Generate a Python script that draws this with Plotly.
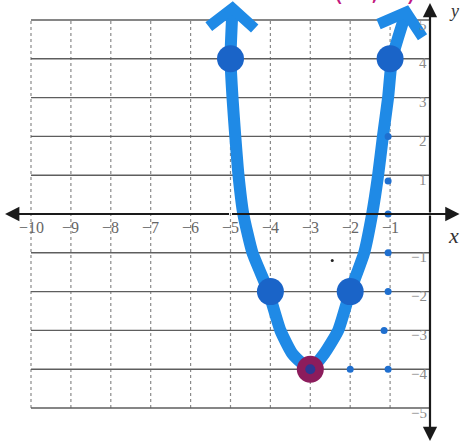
import numpy as np
import plotly.graph_objects as go

# ---- data ----
x_ticks = [-10, -9, -8, -7, -6, -5, -4, -3, -2, -1]
x_tick_labels = ["\u221210", "\u22129", "\u22128", "\u22127", "\u22126", "\u22125", "\u22124", "\u22123", "\u22122", "\u22121"]
y_ticks = [5, 4, 3, 2, 1, -1, -2, -3, -4, -5]
y_tick_labels = ["5", "4", "3", "2", "1", "\u22121", "\u22122", "\u22123", "\u22124", "\u22125"]

# hand-drawn parabola, left arrow tip to right arrow tip
curve_x = [-4.95, -5.0, -4.95, -4.88, -4.8, -4.68, -4.45, -4.05, -3.75, -3.45, -3.0,
           -2.65, -2.3, -2.0, -1.65, -1.45, -1.3, -1.18, -1.05, -0.95, -0.6]
curve_y = [5.3, 4.0, 3.0, 2.0, 1.0, 0.0, -1.0, -2.0, -3.0, -3.6, -4.0,
           -3.6, -3.0, -2.0, -1.0, 0.0, 1.0, 2.0, 3.0, 4.0, 5.2]

# plotted points
pts_x = [-5, -4, -2, -1]
pts_y = [4, -2, -2, 4]
vertex_x = [-3]
vertex_y = [-4]

# small stray ink dots
stray_x = [-1.05, -1.05, -1.05, -1.05, -1.05, -1.15, -1.05, -2.0]
stray_y = [2.0, 0.85, 0.0, -1.0, -2.0, -3.0, -4.0, -4.0]
speck_x = [-2.45]
speck_y = [-1.2]

# ---- layout geometry ----
W, H = 462, 444
XR = [-10.777, 0.802]
YR = [-5.928, 5.515]
pxx = W / (XR[1] - XR[0])
pxy = H / (YR[1] - YR[0])

fig = go.Figure()

# grid lines
for xv in x_ticks:
    fig.add_shape(type="line", x0=xv, x1=xv, y0=-5, y1=5, xref="x", yref="y",
                  line=dict(color="#8a8a8a", width=1.2, dash="dot"), layer="below")
for yv in y_ticks:
    fig.add_shape(type="line", x0=-10, x1=0, y0=yv, y1=yv, xref="x", yref="y",
                  line=dict(color="#5e5e5e", width=1.4), layer="below")

# axes with arrows
ax_style = dict(showarrow=True, arrowhead=2, arrowsize=1.3, arrowwidth=2.2,
                arrowcolor="#1a1a1a", xref="x", yref="y", axref="x", ayref="y",
                text="", standoff=0, startstandoff=0)
fig.add_annotation(x=-10.65, y=0, ax=-5, ay=0, **ax_style)
fig.add_annotation(x=0.74, y=0, ax=-5, ay=0, **ax_style)
fig.add_annotation(x=0, y=5.44, ax=0, ay=0, **ax_style)
fig.add_annotation(x=0, y=-5.85, ax=0, ay=0, **ax_style)

# tick labels
for xv, lab in zip(x_ticks, x_tick_labels):
    fig.add_annotation(x=xv, y=-0.35, text=lab, showarrow=False, xref="x", yref="y",
                       font=dict(family="Liberation Serif", size=16, color="#666666"))
for yv, lab in zip(y_ticks, y_tick_labels):
    fig.add_annotation(x=-0.02, y=yv - 0.12, text=lab, showarrow=False, xref="x", yref="y",
                       xanchor="right", font=dict(family="Liberation Serif", size=15, color="#8a8a8a"))

fig.add_annotation(x=0.58, y=-0.55, text="<i>x</i>", showarrow=False, xref="x", yref="y",
                   font=dict(family="Liberation Serif", size=22, color="#333333"))
fig.add_annotation(x=0.6, y=5.22, text="<i>y</i>", showarrow=False, xref="x", yref="y",
                   font=dict(family="Liberation Serif", size=18, color="#333333"))

# magenta handwriting, cut off at the top
fig.add_annotation(x=375 / W, y=1 + 10 / H, text="(-3,-4)", showarrow=False,
                   xref="paper", yref="paper", xanchor="center", yanchor="middle",
                   font=dict(family="DejaVu Sans", size=27, color="#c2187e"))

# curve
BLUE = "#1f8ae6"
fig.add_trace(go.Scatter(x=curve_x, y=curve_y, mode="lines",
                         line=dict(color=BLUE, width=12, shape="spline", smoothing=0.5),
                         hoverinfo="skip"))

# arrowheads on the curve ends (computed from end direction)
def chevron(xt, yt, xp, yp, length=30, half=50):
    dx, dy = (xp - xt) * pxx, (yp - yt) * pxy
    n = np.hypot(dx, dy)
    dx, dy = dx / n, dy / n
    out_x, out_y = [], []
    for s in (half, -half):
        a = np.radians(s)
        rx = dx * np.cos(a) - dy * np.sin(a)
        ry = dx * np.sin(a) + dy * np.cos(a)
        out_x.append(xt + rx * length / pxx)
        out_y.append(yt + ry * length / pxy)
    return [out_x[0], xt, out_x[1]], [out_y[0], yt, out_y[1]]

for (xt, yt, xp, yp) in [(curve_x[0], curve_y[0], curve_x[1], curve_y[1]),
                         (curve_x[-1], curve_y[-1], curve_x[-2], curve_y[-2])]:
    cx, cy = chevron(xt, yt, xp, yp)
    fig.add_trace(go.Scatter(x=cx, y=cy, mode="lines", line=dict(color=BLUE, width=11),
                             hoverinfo="skip"))

# stray dots
fig.add_trace(go.Scatter(x=stray_x, y=stray_y, mode="markers",
                         marker=dict(color="#1f6fcf", size=7), hoverinfo="skip"))
fig.add_trace(go.Scatter(x=speck_x, y=speck_y, mode="markers",
                         marker=dict(color="#222222", size=3), hoverinfo="skip"))

# points
fig.add_trace(go.Scatter(x=pts_x, y=pts_y, mode="markers",
                         marker=dict(color="#1a64c8", size=27), hoverinfo="skip"))
fig.add_trace(go.Scatter(x=vertex_x, y=vertex_y, mode="markers",
                         marker=dict(color="#8c1c5c", size=27), hoverinfo="skip"))
fig.add_trace(go.Scatter(x=vertex_x, y=vertex_y, mode="markers",
                         marker=dict(color="#1c3c9c", size=10, opacity=0.85), hoverinfo="skip"))

fig.update_layout(width=W, height=H, margin=dict(l=0, r=0, t=0, b=0),
                  paper_bgcolor="white", plot_bgcolor="white", showlegend=False,
                  xaxis=dict(range=XR, visible=False, fixedrange=True),
                  yaxis=dict(range=YR, visible=False, fixedrange=True))

fig.write_html("out.html", config={"displayModeBar": False},
               post_script="document.body.style.margin='0px';document.body.style.overflow='hidden';")
